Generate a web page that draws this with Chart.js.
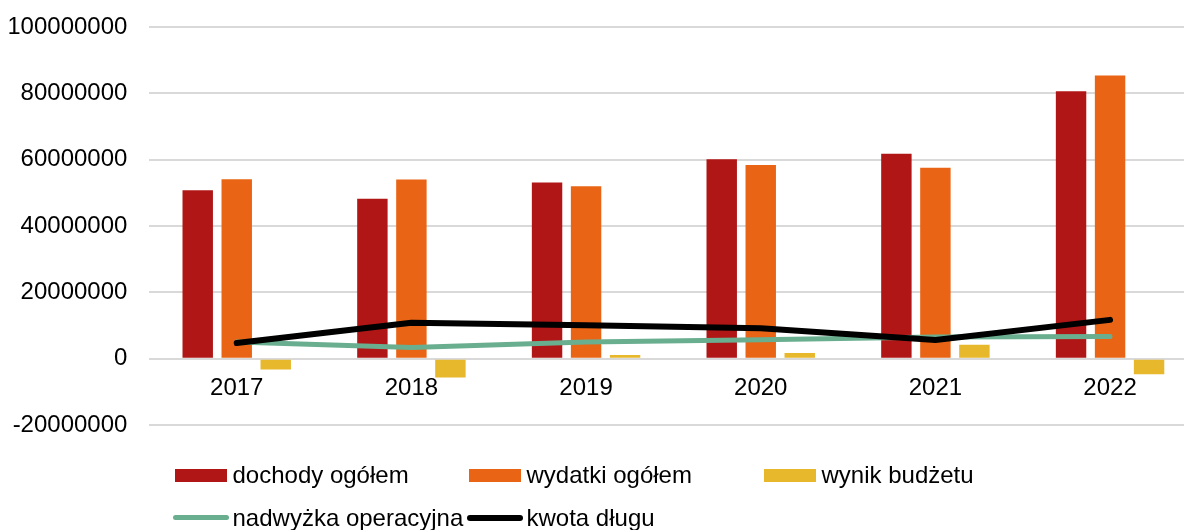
<!DOCTYPE html>
<html>
<head>
<meta charset="utf-8">
<script src="https://cdn.jsdelivr.net/npm/chart.js@4.4.1/dist/chart.umd.min.js"></script>
<style>
  html, body { margin: 0; padding: 0; background: #fff; overflow: hidden; width: 1184px; height: 530px; }
  #wrap { position: absolute; left: 0; top: 0; width: 1198px; height: 530px; }
  #legend { position: absolute; left: 0; top: 0; width: 1184px; height: 530px; pointer-events: none;
            font-family: "Liberation Sans", Arial, sans-serif; font-size: 24px; line-height: 24px; color: #000; }
  .lg-item { position: absolute; white-space: nowrap; }
  .lg-sym { position: absolute; }
</style>
</head>
<body>
<div id="wrap"><canvas id="c" width="1198" height="530" style="width:1198px;height:530px"></canvas></div>
<div id="legend"></div>
<script>
const categories = ['2017', '2018', '2019', '2020', '2021', '2022'];
const dochodyOgolem = [50800000, 48200000, 53100000, 60100000, 61800000, 80600000];
const wydatkiOgolem = [54100000, 54000000, 52000000, 58400000, 57600000, 85400000];
const wynikBudzetu = [-3300000, -5700000, 1100000, 1700000, 4200000, -4700000];
const nadwyzkaOperacyjna = [5000000, 3400000, 5000000, 5700000, 6500000, 6700000];
const kwotaDlugu = [4700000, 10800000, 10100000, 9200000, 5600000, 11700000];
const yTicks = [-20000000, 0, 20000000, 40000000, 60000000, 80000000, 100000000];

const FONT = '"Liberation Sans", Arial, sans-serif';
const colors = {
  dochody: '#B11616',
  wydatki: '#E96414',
  wynik: '#E7B72C',
  nadwyzka: '#6AAE90',
  dlug: '#000000'
};

const datasets = [
  { type: 'bar', label: 'dochody ogółem', data: dochodyOgolem, backgroundColor: colors.dochody, order: 3 },
  { type: 'bar', label: 'wydatki ogółem', data: wydatkiOgolem, backgroundColor: colors.wydatki, order: 3 },
  { type: 'bar', label: 'wynik budżetu', data: wynikBudzetu, backgroundColor: colors.wynik, order: 3 },
  { type: 'line', label: 'nadwyżka operacyjna', data: nadwyzkaOperacyjna, borderColor: colors.nadwyzka,
    backgroundColor: colors.nadwyzka, borderWidth: 5, pointRadius: 0, tension: 0,
    borderCapStyle: 'round', borderJoinStyle: 'round', order: 1 },
  { type: 'line', label: 'kwota długu', data: kwotaDlugu, borderColor: colors.dlug,
    backgroundColor: colors.dlug, borderWidth: 6, pointRadius: 0, tension: 0,
    borderCapStyle: 'round', borderJoinStyle: 'round', order: 0 }
];

new Chart(document.getElementById('c'), {
  type: 'bar',
  data: { labels: categories, datasets: datasets },
  options: {
    responsive: false,
    animation: false,
    devicePixelRatio: 1,
    layout: { padding: { left: 9.4, right: 0.6, top: 27, bottom: 105 } },
    datasets: { bar: { categoryPercentage: 0.67, barPercentage: 0.78 } },
    plugins: { legend: { display: false }, tooltip: { enabled: false } },
    scales: {
      x: {
        position: { y: 0 },
        offset: true,
        grid: { display: false, drawTicks: false },
        border: { display: false },
        ticks: { color: '#000', font: { family: FONT, size: 24 }, padding: 15, maxRotation: 0 },
        afterFit: (s) => { s.height = 0; }
      },
      y: {
        min: -20000000,
        max: 100000000,
        afterBuildTicks: (s) => { s.ticks = yTicks.map(v => ({ value: v })); },
        grid: { color: '#d9d9d9', lineWidth: 2, drawTicks: false },
        border: { display: false },
        ticks: { color: '#000', font: { family: FONT, size: 24 }, padding: 22,
                 callback: (v) => String(v) },
        afterFit: (s) => { s.width = 140; s.paddingTop = 0; s.paddingBottom = 0; }
      }
    }
  }
});

// HTML legend (Excel-style column layout)
const legendItems = [
  { i: 0, kind: 'box', x: 175, row: 0 },
  { i: 1, kind: 'box', x: 469, row: 0 },
  { i: 2, kind: 'box', x: 764, row: 0 },
  { i: 3, kind: 'line', x: 173, row: 1 },
  { i: 4, kind: 'line', x: 467, row: 1 }
];
const rowTop = [463, 505.5];
const lg = document.getElementById('legend');
legendItems.forEach(it => {
  const ds = datasets[it.i];
  const sym = document.createElement('div');
  sym.className = 'lg-sym';
  if (it.kind === 'box') {
    sym.style.left = it.x + 'px';
    sym.style.top = (rowTop[it.row] + 6) + 'px';
    sym.style.width = '52px';
    sym.style.height = '13px';
    sym.style.background = ds.backgroundColor;
  } else {
    sym.style.left = it.x + 'px';
    sym.style.top = (rowTop[it.row] + 12 - ds.borderWidth / 2) + 'px';
    sym.style.width = '56px';
    sym.style.height = ds.borderWidth + 'px';
    sym.style.borderRadius = ds.borderWidth + 'px';
    sym.style.background = ds.borderColor;
  }
  lg.appendChild(sym);
  const t = document.createElement('div');
  t.className = 'lg-item';
  t.style.left = (it.kind === 'box' ? it.x + 57.5 : it.x + 59.5) + 'px';
  t.style.top = rowTop[it.row] + 'px';
  t.textContent = ds.label;
  lg.appendChild(t);
});
</script>
</body>
</html>
